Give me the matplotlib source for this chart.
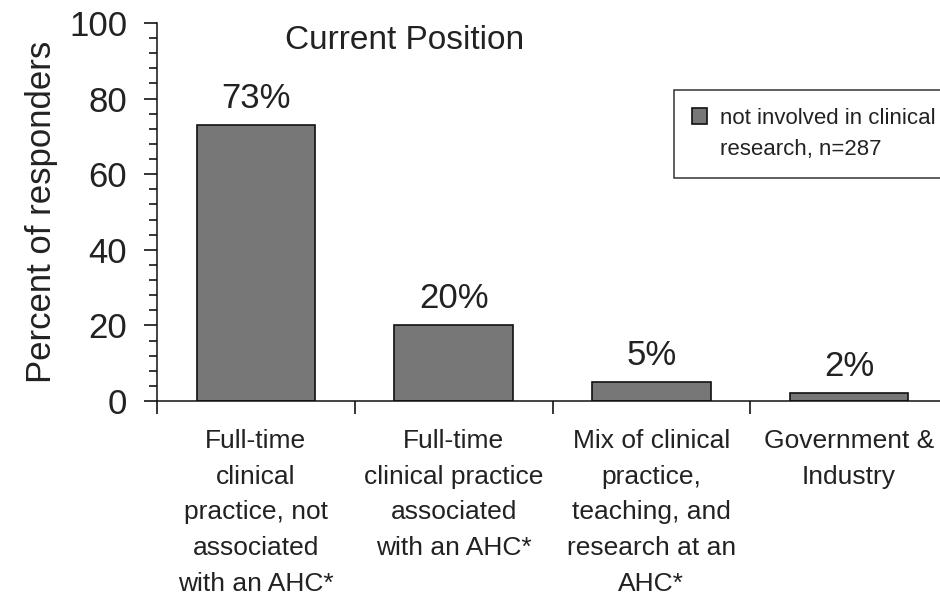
import matplotlib.pyplot as plt
import matplotlib.ticker as ticker
from matplotlib.patches import Patch

# Data
categories = [
    'Full-time\nclinical\npractice, not\nassociated\nwith an AHC*',
    'Full-time\nclinical practice\nassociated\nwith an AHC*',
    'Mix of clinical\npractice,\nteaching, and\nresearch at an\nAHC*',
    'Government &\nIndustry',
]
percent = [73, 20, 5, 2]
bar_labels = ['73%', '20%', '5%', '2%']
series_name = ['not involved in clinical', 'research, n=287']

plt.rcParams['font.family'] = ['Liberation Sans', 'DejaVu Sans']


def plot_chart(output_file):
    fig = plt.figure(figsize=(9.4, 5.96), dpi=100)
    ax = fig.add_axes([157 / 940, 1 - 401 / 596, 791 / 940, 378 / 596])

    x = list(range(len(categories)))
    bars = ax.bar(x, percent, width=0.6, color='#777777', edgecolor='#111111',
                  linewidth=1.2)

    for xi, val, txt in zip(x, percent, bar_labels):
        ax.annotate(txt, (xi, val), xytext=(0, 7.5), textcoords='offset points',
                    ha='center', va='bottom', fontsize=25, color='#222222')

    ax.set_xlim(-0.5, len(categories) - 0.5)
    ax.set_ylim(0, 100)

    # category boundaries as major ticks, labels at centres
    ax.xaxis.set_major_locator(ticker.FixedLocator([i - 0.5 for i in range(len(categories) + 1)]))
    ax.xaxis.set_major_formatter(ticker.NullFormatter())
    ax.xaxis.set_minor_locator(ticker.FixedLocator(x))
    ax.xaxis.set_minor_formatter(ticker.FixedFormatter(categories))
    ax.tick_params(axis='x', which='major', length=9.5, width=1.1, direction='out')
    ax.tick_params(axis='x', which='minor', length=0, pad=20, labelsize=19,
                   labelcolor='#222222')
    for lab in ax.get_xticklabels(minor=True):
        lab.set_linespacing(1.62)
        lab.set_va('top')

    ax.yaxis.set_major_locator(ticker.MultipleLocator(20))
    ax.yaxis.set_minor_locator(ticker.MultipleLocator(4))
    ax.tick_params(axis='y', which='major', length=9.5, width=1.1, pad=12,
                   labelsize=25, labelcolor='#222222')
    ax.tick_params(axis='y', which='minor', length=5.8, width=1.1)

    ax.set_ylabel('Percent of responders', fontsize=25, color='#222222', labelpad=8)

    for side in ['top', 'right']:
        ax.spines[side].set_visible(False)
    for side in ['left', 'bottom']:
        ax.spines[side].set_linewidth(1.1)
        ax.spines[side].set_color('#111111')

    ax.text(0.3135, 0.955, 'Current Position', transform=ax.transAxes,
            ha='center', va='center', fontsize=24, color='#222222')

    # second line of the legend label as its own entry so the swatch sits on line one
    blank = Patch(facecolor='none', edgecolor='none')
    leg = ax.legend([bars, blank], series_name, loc='upper left',
                    bbox_to_anchor=(0.6536, 0.8228),
                    fontsize=16, frameon=True, fancybox=False, framealpha=1,
                    handlelength=0.7, handleheight=0.7, handletextpad=0.55,
                    labelspacing=0.45, borderpad=0.8, borderaxespad=0)
    leg.get_frame().set_edgecolor('#333333')
    leg.get_frame().set_linewidth(1.1)
    for t in leg.get_texts():
        t.set_color('#222222')

    fig.savefig(output_file, dpi=100)
    plt.close(fig)


def main():
    plot_chart('out.png')


if __name__ == '__main__':
    main()
